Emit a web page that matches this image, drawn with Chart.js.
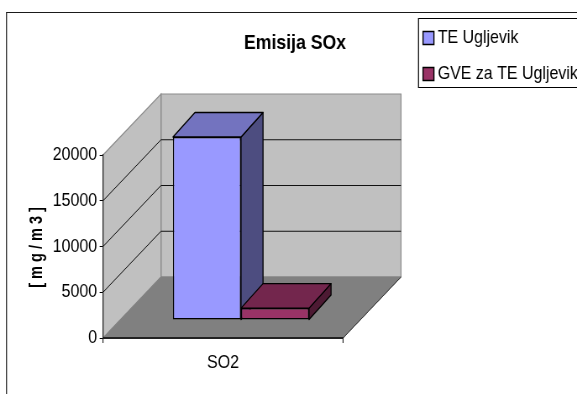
<!DOCTYPE html>
<html>
<head>
<meta charset="utf-8">
<style>
html,body{margin:0;padding:0;background:#fff;overflow:hidden;}
canvas{position:absolute;left:0;top:0;}
</style>
<script src="https://cdn.jsdelivr.net/npm/chart.js@4"></script>
</head>
<body>
<canvas id="c" width="687" height="394" style="width:577px;height:394px"></canvas>
<script>
const categories = ['SO2'];
const seriesNames = ['TE Ugljevik', 'GVE za TE Ugljevik'];
const teUgljevik = [20000];
const gveUgljevik = [1300];
const yTicks = [0, 5000, 10000, 15000, 20000];
const titleText = 'Emisija SOx';
const axisTitle = '[ m g / m 3 ]';

// The canvas is drawn wider than it is shown, which gives the text its narrow look.
const K = 577 / 687;
const X = px => px / K;
const FONT = '"Liberation Sans",Arial,sans-serif';
const DEPTH = {x: X(58), y: -61};       // front-to-back offset of the floor
const BAR_SHIFT = {x: X(18), y: -18};   // how far back on the floor the columns stand
const BAR_DEPTH = {x: X(22), y: -24.5}; // extrusion of each column

const faces = [
  {front: '#9999ff', top: '#7373bf', side: '#4d4d80'},
  {front: '#993366', top: '#73264d', side: '#4d1a33'}
];

function poly(ctx, pts, fill, stroke, lw) {
  ctx.beginPath();
  pts.forEach((p, i) => i ? ctx.lineTo(p[0], p[1]) : ctx.moveTo(p[0], p[1]));
  ctx.closePath();
  if (fill) { ctx.fillStyle = fill; ctx.fill(); }
  if (stroke) { ctx.strokeStyle = stroke; ctx.lineWidth = lw || 1; ctx.stroke(); }
}

const frame3d = {
  id: 'frame3d',
  afterLayout(chart) {
    // the legend sits in its own box at the upper right and runs off the canvas edge
    const l = chart.legend;
    l.left = X(423) - 12; l.top = 11.5; l.right = X(577) + 40; l.bottom = 200;
    l.width = l.right - l.left; l.height = l.bottom - l.top;
    // the heading is centred over the plot and its depth, not over the canvas
    const t = chart.titleBlock;
    t.left = X(244); t.right = X(346); t.top = 30.4;
  },
  beforeDraw(chart) {
    const {ctx, scales: {y}, chartArea: a} = chart;
    const y0 = y.getPixelForValue(0), yMax = y.getPixelForValue(yTicks[yTicks.length - 1]);
    const L = a.left, R = a.right, d = DEPTH;
    ctx.save();
    // outer frame: only the top and left edges fall inside the canvas
    ctx.strokeStyle = '#1a1a1a';
    ctx.lineWidth = 1.2;
    ctx.beginPath();
    ctx.moveTo(X(6.5), 394); ctx.lineTo(X(6.5), 12.5); ctx.lineTo(X(577) + 5, 12.5);
    ctx.stroke();
    // legend box
    ctx.fillStyle = '#fff';
    ctx.strokeStyle = '#000';
    ctx.beginPath();
    ctx.moveTo(X(577) + 5, 18.5); ctx.lineTo(X(418.5), 18.5); ctx.lineTo(X(418.5), 87.5); ctx.lineTo(X(577) + 5, 87.5);
    ctx.fill(); ctx.stroke();
    // back wall
    poly(ctx, [[L + d.x, yMax + d.y], [R + d.x, yMax + d.y], [R + d.x, y0 + d.y], [L + d.x, y0 + d.y]], '#c0c0c0', '#8c8c8c', 1.2);
    // side wall
    poly(ctx, [[L, yMax], [L + d.x, yMax + d.y], [L + d.x, y0 + d.y], [L, y0]], '#c0c0c0', '#8c8c8c', 1.2);
    // floor
    poly(ctx, [[L, y0], [R, y0], [R + d.x, y0 + d.y], [L + d.x, y0 + d.y]], '#808080', '#808080', 1);
    // dark outer edge of the floor
    ctx.strokeStyle = '#333';
    ctx.lineWidth = 1;
    ctx.beginPath();
    ctx.moveTo(R, y0); ctx.lineTo(R + d.x, y0 + d.y);
    ctx.stroke();
    // grid lines across the side wall and along the back wall
    ctx.strokeStyle = '#111';
    ctx.lineWidth = 1;
    yTicks.slice(1, -1).forEach(v => {
      const p = y.getPixelForValue(v);
      ctx.beginPath();
      ctx.moveTo(L, p);
      ctx.lineTo(L + d.x, p + d.y);
      ctx.lineTo(R + d.x, p + d.y);
      ctx.stroke();
    });
    // ticks below both ends of the front edge
    ctx.strokeStyle = '#000';
    ctx.beginPath();
    ctx.moveTo(L, y0); ctx.lineTo(L, y0 + 5);
    ctx.moveTo(R, y0); ctx.lineTo(R, y0 + 5);
    ctx.stroke();
    ctx.restore();
  },
  beforeDatasetsDraw(chart) {
    const {ctx} = chart;
    const ox = BAR_SHIFT.x, oy = BAR_SHIFT.y, e = BAR_DEPTH;
    ctx.save();
    // extrusions of the columns, behind their front faces
    ctx.lineJoin = 'round';
    chart.data.datasets.forEach((ds, i) => {
      const el = chart.getDatasetMeta(i).data[0];
      const half = el.width / 2;
      const l = el.x - half + ox, r = el.x + half + ox;
      const t = el.y + oy, b = el.base + oy;
      poly(ctx, [[r, t], [r + e.x, t + e.y], [r + e.x, b + e.y], [r, b]], faces[i].side, '#000', 1.3);
      poly(ctx, [[l, t], [l + e.x, t + e.y], [r + e.x, t + e.y], [r, t]], faces[i].top, '#000', 1.3);
    });
    // the library's front faces are shifted back onto the floor as well
    ctx.translate(ox, oy);
  },
  afterDatasetsDraw(chart) {
    chart.ctx.restore();
  },
  afterDraw(chart) {
    // rotated axis caption, squeezed along its length like the rest of the text
    const {ctx} = chart;
    ctx.save();
    ctx.translate(X(36.5), 247.5);
    ctx.rotate(-Math.PI / 2);
    ctx.scale(0.66, 1);
    ctx.font = 'bold 22px ' + FONT;
    ctx.fillStyle = '#000';
    ctx.textAlign = 'center';
    ctx.textBaseline = 'middle';
    ctx.fillText(axisTitle, 0, 0);
    ctx.restore();
  }
};

new Chart(document.getElementById('c'), {
  type: 'bar',
  data: {
    labels: categories,
    datasets: [
      {label: seriesNames[0], data: teUgljevik, backgroundColor: faces[0].front, borderColor: '#000', borderWidth: 1.4, borderSkipped: false, clip: false, pointStyle: 'rect'},
      {label: seriesNames[1], data: gveUgljevik, backgroundColor: faces[1].front, borderColor: '#000', borderWidth: 1.4, borderSkipped: false, clip: false, pointStyle: 'rect'}
    ]
  },
  plugins: [frame3d],
  options: {
    responsive: false,
    animation: false,
    devicePixelRatio: 1,
    layout: {autoPadding: false, padding: {left: 0, top: 129.8, right: 687 - X(343), bottom: 0}},
    categoryPercentage: 0.567,
    barPercentage: 1,
    plugins: {
      tooltip: {enabled: false},
      title: {
        display: true, text: titleText, color: '#000', padding: 0,
        font: {family: FONT, size: 21, weight: 'bold', lineHeight: 1.2}
      },
      subtitle: {display: false},
      legend: {
        display: true,
        position: 'chartArea',
        align: 'start',
        labels: {
          usePointStyle: true,
          boxWidth: 3, boxHeight: 13, padding: 17,
          color: '#000',
          font: {family: FONT, size: 19, lineHeight: 1}
        }
      }
    },
    scales: {
      x: {
        afterFit(s) { s.height = 394 - 338; },
        grid: {display: false},
        border: {display: true, color: '#222', width: 2},
        ticks: {color: '#000', font: {family: FONT, size: 19}, padding: 5, maxRotation: 0}
      },
      y: {
        min: 0, max: 20000,
        afterFit(s) { s.width = X(103); },
        afterBuildTicks(s) { s.ticks = yTicks.map(v => ({value: v})); },
        grid: {display: true, drawOnChartArea: false, drawTicks: true, tickLength: 4, color: '#000'},
        border: {display: true, color: '#222', width: 1.2},
        ticks: {color: '#000', font: {family: FONT, size: 19}, padding: 3, callback: v => String(v)},
        title: {display: false}
      }
    }
  }
});
</script>
</body>
</html>
